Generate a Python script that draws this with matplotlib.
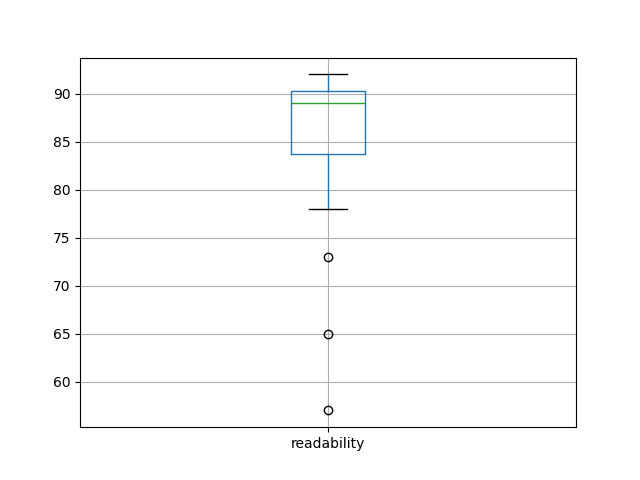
import matplotlib
matplotlib.use("Agg")
import matplotlib.pyplot as plt

labels = ["readability"]
whislo = [78.0]
q1 = [83.75]
med = [89.0]
q3 = [90.25]
whishi = [92.0]
fliers = [[73.0, 65.0, 57.0]]

stats = []
for i in range(len(labels)):
    stats.append(dict(label=labels[i], whislo=whislo[i], q1=q1[i], med=med[i],
                      q3=q3[i], whishi=whishi[i], fliers=fliers[i]))

fig, ax = plt.subplots(figsize=(6.4, 4.8), dpi=100)
ax.bxp(stats,
       boxprops=dict(color="#1f77b4"),
       whiskerprops=dict(color="#1f77b4"),
       medianprops=dict(color="#2ca02c"),
       capprops=dict(color="black"),
       flierprops=dict(marker="o", markeredgecolor="black", markerfacecolor="none"))
ax.grid(True)
fig.savefig("out.png", dpi=100)
